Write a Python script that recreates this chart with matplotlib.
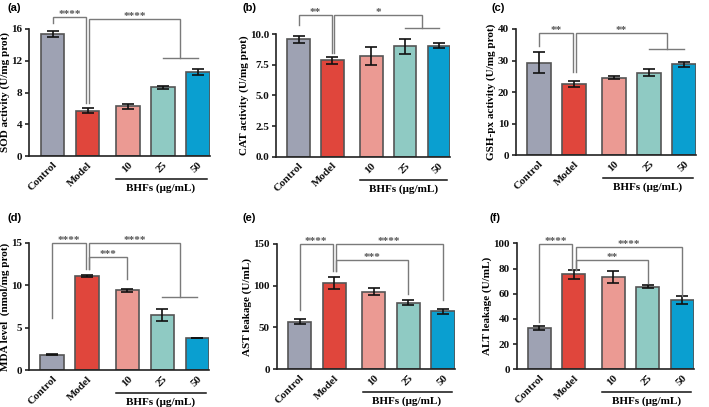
import matplotlib
matplotlib.use("Agg")
import matplotlib.pyplot as plt
from matplotlib import transforms

plt.rcParams['font.family'] = ['Liberation Serif', 'DejaVu Serif']
plt.rcParams['font.weight'] = 'bold'

# ---------------- data ----------------
groups = ['Control', 'Model', '10', '25', '50']
group_label = 'BHFs (μg/mL)'

sod_mean = [15.35, 5.7, 6.25, 8.65, 10.6]
sod_err = [0.35, 0.3, 0.35, 0.17, 0.35]
cat_mean = [9.57, 7.85, 8.18, 9.0, 9.03]
cat_err = [0.27, 0.3, 0.72, 0.6, 0.2]
gsh_mean = [29.3, 22.6, 24.6, 26.2, 28.9]
gsh_err = [3.3, 1.05, 0.5, 1.2, 0.8]
mda_mean = [1.85, 11.1, 9.4, 6.5, 3.8]
mda_err = [0.1, 0.1, 0.2, 0.75, 0.05]
ast_mean = [56.7, 102.7, 92.7, 79.4, 69.4]
ast_err = [3.0, 7.0, 4.4, 3.0, 3.0]
alt_mean = [32.8, 75.3, 73.2, 65.7, 55.1]
alt_err = [1.5, 3.3, 4.5, 1.4, 3.3]

ylabels = ['SOD activity (U/mg prot)', 'CAT activity (U/mg prot)',
           'GSH-px activity (U/mg prot)', 'MDA level  (nmol/mg prot)',
           'AST leakage (U/mL)', 'ALT leakage (U/mL)']
panel_letters = ['(a)', '(b)', '(c)', '(d)', '(e)', '(f)']
yticks_list = [[0, 4, 8, 12, 16], [0.0, 2.5, 5.0, 7.5, 10.0], [0, 10, 20, 30, 40],
               [0, 5, 10, 15], [0, 50, 100, 150], [0, 20, 40, 60, 80, 100]]
ytick_fmt = ['{:.0f}', '{:.1f}', '{:.0f}', '{:.0f}', '{:.0f}', '{:.0f}']

# significance brackets: (x1, x2, y_top, y_leg1, y_leg2, label, group_line)
brackets = [
    [(0, 0.96, 17.55, 16.8, 6.7, '****', False),
     (1.05, 3.65, 17.25, 6.7, 12.4, '****', True)],
    [(0, 0.98, 11.55, 10.73, 8.43, '**', False),
     (1.05, 3.65, 11.55, 8.43, 10.5, '*', True)],
    [(0, 0.98, 38.6, 34.7, 26.5, '**', False),
     (1.06, 3.65, 38.6, 26.5, 33.7, '**', True)],
    [(0, 0.96, 14.93, 6.1, 11.9, '****', False),
     (1.04, 3.65, 14.93, 11.9, 8.65, '****', True),
     (1.04, 2.15, 13.28, 11.9, 10.73, '***', False)],
    [(0, 0.96, 149.6, 70.8, 117.4, '****', False),
     (1.04, 4.15, 149.6, 117.4, 82.8, '****', False),
     (1.04, 3.15, 130.5, 117.4, 89.9, '***', False)],
    [(0, 0.96, 99.2, 37.8, 78.8, '****', False),
     (1.06, 4.15, 97.3, 78.8, 58.4, '****', False),
     (1.06, 3.15, 86.7, 78.8, 68.7, '**', False)],
]

means = [sod_mean, cat_mean, gsh_mean, mda_mean, ast_mean, alt_mean]
errs = [sod_err, cat_err, gsh_err, mda_err, ast_err, alt_err]

# ---------------- style / layout ----------------
x_pos = [0, 1, 2.15, 3.15, 4.15]
colors = ['#9EA2B3', '#E0463C', '#EB9A93', '#8FCAC3', '#0A9FD0']
W, H = 709, 407
# axes boxes in pixels: left, right, top, bottom
boxes = [(29.4, 209.7, 29, 156), (276.4, 450.3, 34, 156.7), (515.9, 695.9, 29, 155.3),
         (29.1, 209.4, 242.7, 370.3), (276.9, 454.7, 243.7, 369.3), (516.6, 694.0, 243.3, 369.3)]
letter_pos = [(7, 8), (242, 8), (491, 8), (7, 218), (242, 218), (490, 218)]
br_color = '#7a7a7a'
star_color = '#555555'

fig = plt.figure(figsize=(W / 100, H / 100), dpi=100)

for i in range(6):
    l, r, t, b = boxes[i]
    ax = fig.add_axes([l / W, 1 - b / H, (r - l) / W, (b - t) / H])
    ymax = yticks_list[i][-1]
    ax.bar(x_pos, means[i], width=0.67, color=colors, edgecolor='#555555',
           linewidth=1.2, zorder=2)
    ax.errorbar(x_pos, means[i], yerr=errs[i], fmt='none', ecolor='#111111',
                elinewidth=1.2, capsize=4.3, capthick=1.2, zorder=3)
    ax.set_xlim(-0.66, 4.49)
    ax.set_ylim(0, ymax)
    ax.set_yticks(yticks_list[i])
    ax.set_yticklabels([ytick_fmt[i].format(v) for v in yticks_list[i]],
                       fontsize=8, fontweight='bold')
    ax.set_xticks(x_pos)
    ax.set_xticklabels(groups, rotation=45, ha='right', rotation_mode='anchor',
                       fontsize=8, fontweight='bold')
    ax.tick_params(axis='y', length=3, width=1.1, pad=2, colors='#111111')
    ax.tick_params(axis='x', length=0, pad=3, colors='#111111')
    for s in ['top', 'right']:
        ax.spines[s].set_visible(False)
    for s in ['left', 'bottom']:
        ax.spines[s].set_linewidth(1.2)
        ax.spines[s].set_color('#222222')
    ax.set_ylabel(ylabels[i], fontsize=8, fontweight='bold', labelpad=1)

    # group line & label
    bt = transforms.blended_transform_factory(ax.transData, ax.transAxes)
    hpx = b - t
    ax.plot([1.82, 4.4], [-23 / hpx, -23 / hpx], color='#111111', lw=1.1,
            transform=bt, clip_on=False)
    ax.text(3.1, -32 / hpx, group_label, transform=bt, ha='center', va='center',
            fontsize=8, fontweight='bold')

    # brackets
    for (x1, x2, yt, y1, y2, lab, grp) in brackets[i]:
        ax.plot([x1, x1, x2, x2], [y1, yt, yt, y2], color=br_color, lw=1.0,
                clip_on=False, zorder=4, solid_joinstyle='miter')
        if grp:
            ax.plot([3.15, 4.15], [y2, y2], color=br_color, lw=1.0,
                    clip_on=False, zorder=4)
        ax.text((x1 + x2) / 2, yt, lab, ha='center', va='baseline', fontsize=8,
                color=star_color, fontweight='bold')

    lx, ly = letter_pos[i]
    fig.text(lx / W, 1 - ly / H, panel_letters[i], ha='left', va='center',
             fontsize=8, fontweight='bold', family=['Liberation Sans', 'DejaVu Sans'])

fig.savefig('out.png', dpi=100)
